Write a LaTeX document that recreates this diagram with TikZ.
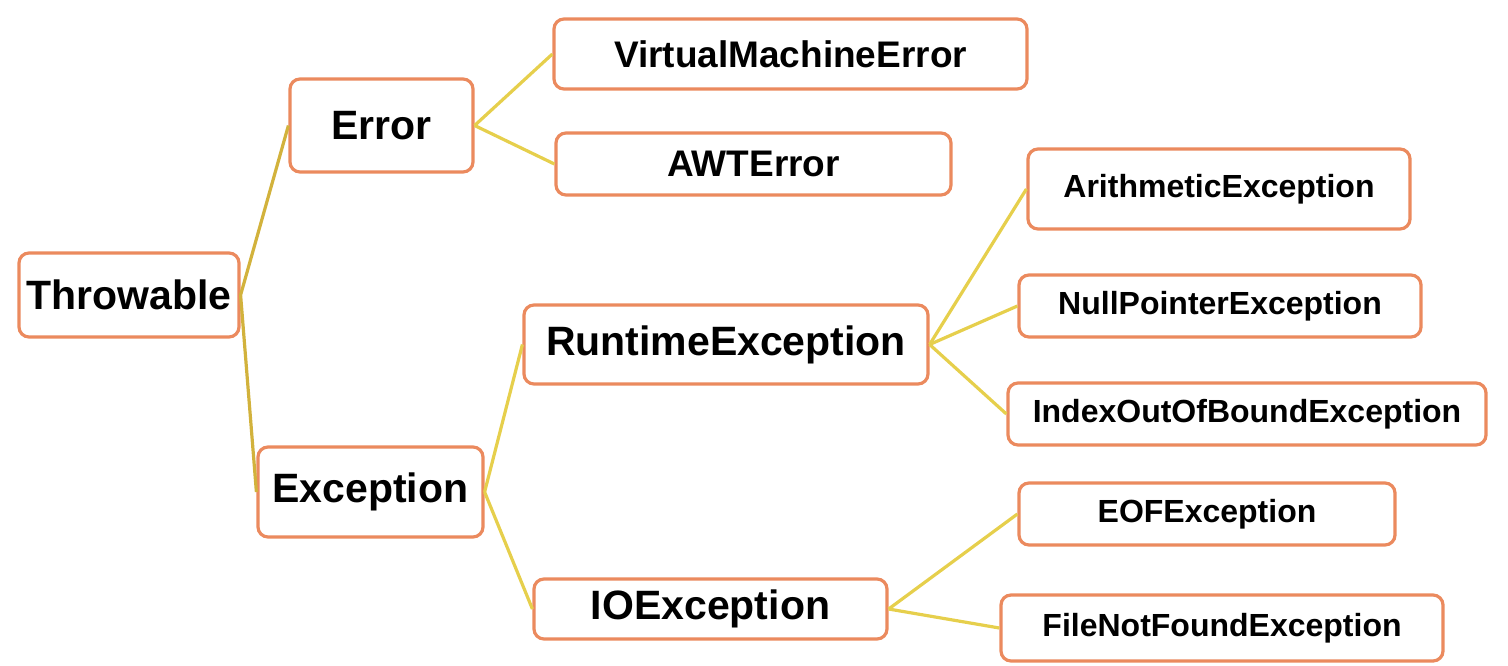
\documentclass[tikz,border=0pt]{standalone}
\usepackage{fontspec}
\setmainfont{Liberation Sans}
\usetikzlibrary{positioning}
\definecolor{boxorange}{HTML}{EB8A5E}
\definecolor{linkyellow}{HTML}{E6CF4C}
\definecolor{linkgold}{HTML}{D2B23C}
\begin{document}
\begin{tikzpicture}[
    x=0.5pt, y=-0.5pt,
    classbox/.style={rectangle, draw=boxorange, fill=white, rounded corners=5pt, line width=1.6pt, inner sep=0pt, align=center, font=\bfseries},
    bigtxt/.style={classbox, font=\bfseries\fontsize{20.5}{24}\selectfont},
    midtxt/.style={classbox, font=\bfseries\fontsize{18.5}{22}\selectfont},
    smalltxt/.style={classbox, font=\bfseries\fontsize{16}{19}\selectfont},
    link/.style={draw=linkyellow, line width=1.6pt},
    rootlink/.style={draw=linkgold, line width=1.6pt}
]
\useasboundingbox (0,0) rectangle (1508,665);
% root and first level
\node[bigtxt, minimum width=110pt, minimum height=42pt] (throwable) at (129,295) {Throwable};
\node[bigtxt, minimum width=91.5pt, minimum height=46.5pt] (error) at (381.5,125.5) {Error};
\node[bigtxt, minimum width=112.5pt, minimum height=45pt] (exception) at (370.5,492) {Exception};
% errors
\node[midtxt, minimum width=236.5pt, minimum height=35pt] (vmerror) at (790.5,54) {VirtualMachineError};
\node[midtxt, minimum width=197.5pt, minimum height=31pt] (awterror) at (753.5,164) {AWTError};
% exceptions
\node[bigtxt, minimum width=202pt, minimum height=39.5pt] (runtime) at (726,344.5) {RuntimeException};
\node[bigtxt, minimum width=176.5pt, minimum height=30pt] (ioexc) at (710.5,609) {IOException};
% runtime children
\node[smalltxt, minimum width=191pt, minimum height=40pt] (arith) at (1219,189) {ArithmeticException};
\node[smalltxt, minimum width=201pt, minimum height=31pt] (nullptr) at (1220,306) {NullPointerException};
\node[smalltxt, minimum width=239pt, minimum height=31pt] (indexoob) at (1247,414) {IndexOutOfBoundException};
% io children
\node[smalltxt, minimum width=188pt, minimum height=31pt] (eof) at (1207,514) {EOFException};
\node[smalltxt, minimum width=221pt, minimum height=33pt] (filenf) at (1222,628) {FileNotFoundException};

\draw[rootlink] (throwable.east) -- (error.west);
\draw[rootlink] (throwable.east) -- (exception.west);
\draw[link] (error.east) -- (vmerror.west);
\draw[link] (error.east) -- (awterror.west);
\draw[link] (exception.east) -- (runtime.west);
\draw[link] (exception.east) -- (ioexc.west);
\draw[link] (runtime.east) -- (arith.west);
\draw[link] (runtime.east) -- (nullptr.west);
\draw[link] (runtime.east) -- (indexoob.west);
\draw[link] (ioexc.east) -- (eof.west);
\draw[link] (ioexc.east) -- (filenf.west);
\end{tikzpicture}
\end{document}
